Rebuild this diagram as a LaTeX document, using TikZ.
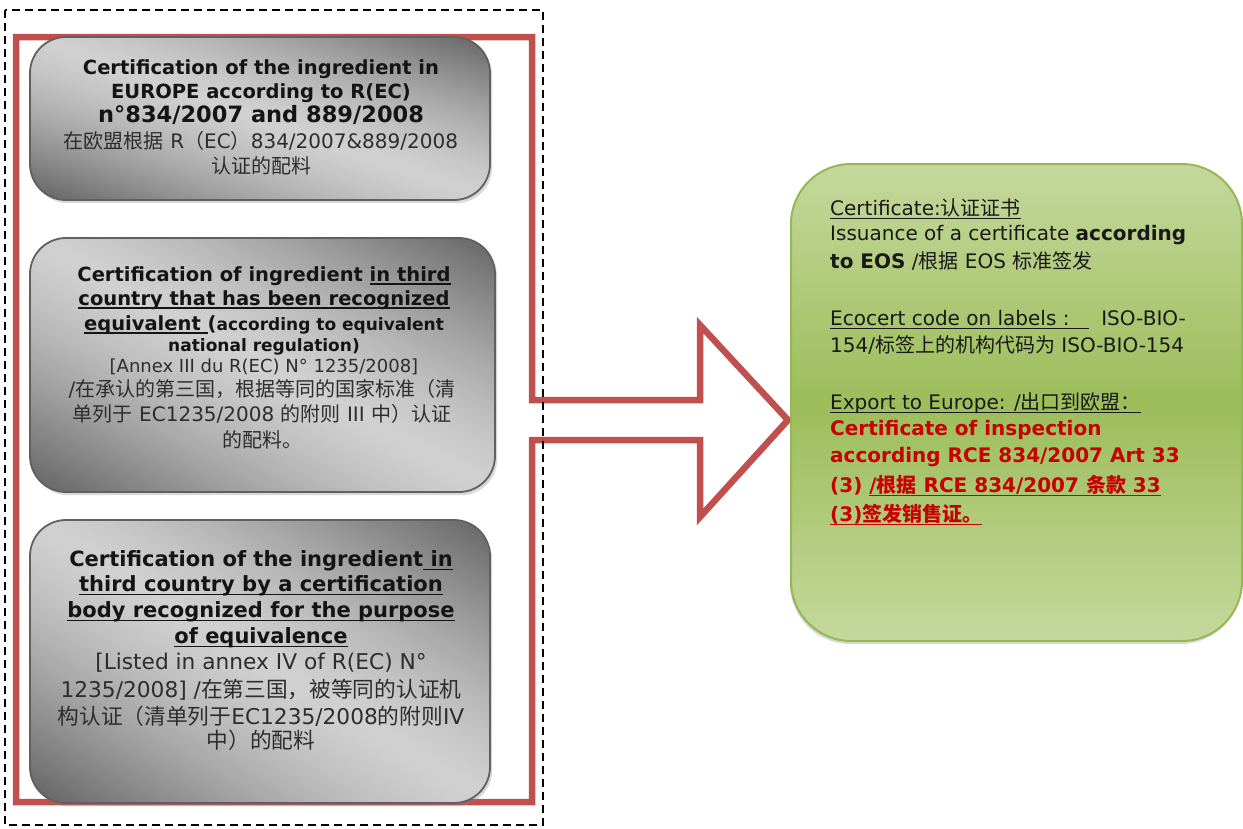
\documentclass[tikz,border=0pt]{standalone}
\usepackage{fontspec}
\setmainfont{DejaVu Sans}
\newfontfamily\cjk{Noto Sans CJK SC}
\usetikzlibrary{shadows}
\definecolor{redline}{RGB}{192,80,77}
\definecolor{greenB}{RGB}{150,184,84}
\definecolor{greenL}{RGB}{197,216,157}
\definecolor{greenM}{RGB}{156,189,90}
\definecolor{grayD}{RGB}{98,98,98}
\definecolor{grayL}{RGB}{208,208,208}
\definecolor{grayE}{RGB}{96,96,96}
\definecolor{txtred}{RGB}{200,0,0}
\definecolor{txtgray}{RGB}{45,45,45}
\newcommand\zh[1]{{\cjk #1}}
\newcommand\ulx[1]{\setbox0\hbox{#1}\rlap{\rule[-0.2em]{\wd0}{0.075em}}\box0}
% diagonal grey gradient inside a rounded box: dark at top-right and bottom-left
\newcommand\grayfill[4]{%
  \begin{scope}
    \clip[rounded corners=36pt] (#1,#2) rectangle (#3,#4);
    \foreach \i in {0,...,119}{
      \pgfmathsetmacro\sa{-1+\i/60}
      \pgfmathsetmacro\sb{-1+(\i+1.6)/60}
      \pgfmathsetmacro\uu{abs((\sa+\sb)/2)}
      \pgfmathsetmacro\ff{100*(1-\uu^1.4)}
      \fill[grayL!\ff!grayD]
        (#1,{#2+\sa*(#4-#2)}) -- (#3,{#4+\sa*(#4-#2)})
        -- (#3,{#4+\sb*(#4-#2)}) -- (#1,{#2+\sb*(#4-#2)}) -- cycle;
    }
  \end{scope}
  \draw[grayE, line width=1.8pt, rounded corners=36pt] (#1,#2) rectangle (#3,#4);}
\tikzset{
  graybox/.style={rectangle, rounded corners=36pt, fill=grayL,
    drop shadow={opacity=0.3, shadow xshift=2pt, shadow yshift=-3pt},
    anchor=north west, inner sep=0pt},
  greenbox/.style={rectangle, rounded corners=60pt, draw=greenB, line width=2pt,
    top color=greenL, bottom color=greenL, middle color=greenM,
    drop shadow={opacity=0.3, shadow xshift=-1pt, shadow yshift=-3pt},
    anchor=north west, inner sep=0pt},
  hb/.style={anchor=base, inner sep=0pt, text=black!92, font=\fontsize{19.5}{24}\selectfont\bfseries},
  hbb/.style={anchor=base, inner sep=0pt, text=black!92, font=\fontsize{21}{26}\selectfont\bfseries},
  rl/.style={anchor=base, inner sep=0pt, text=txtgray, font=\fontsize{20}{24}\selectfont},
  rlb/.style={anchor=base, inner sep=0pt, text=txtgray, font=\fontsize{21.7}{26}\selectfont},
  gt/.style={anchor=base west, inner sep=0pt, text=black!90, font=\fontsize{20}{26}\selectfont},
  gr/.style={anchor=base west, inner sep=0pt, text=txtred, font=\fontsize{20}{26}\selectfont\bfseries},
}
\begin{document}
\begin{tikzpicture}[x=1pt,y=-1pt]
\useasboundingbox (0,0) rectangle (1243,828);
% red outline arrow
\draw[redline, line width=6.5pt, line join=miter]
  (16,37) -- (532,37) -- (532,400) -- (700,400) -- (700,325) -- (788,420)
  -- (700,517) -- (700,440) -- (532,440) -- (532,802) -- (16,802) -- cycle;
% gray boxes
\node[graybox, minimum width=460pt, minimum height=163pt] (b1) at (30,37) {};
\grayfill{30}{37}{490}{200}
\node[graybox, minimum width=465pt, minimum height=254pt] (b2) at (30,238) {};
\grayfill{30}{238}{495}{492}
\node[graybox, minimum width=460pt, minimum height=283pt] (b3) at (30,520) {};
\grayfill{30}{520}{490}{803}
% green box
\node[greenbox, minimum width=451pt, minimum height=477pt] (g) at (790,163) {};
% dashed frame
\draw[black, line width=2.5pt, dash pattern=on 8pt off 5pt] (5,10) rectangle (543,825);

% box 1 text
\node[hb] (t11) at (261,74) {Certification of the ingredient in};
\node[hb] (t12) at (261,98) {EUROPE according to R(EC)};
\node[hb, font=\fontsize{22.5}{26}\selectfont\bfseries] (t13) at (261,122) {n°834/2007 and 889/2008};
\node[rl] (t14) at (261,148) {\zh{在欧盟根据} R\zh{（}EC\zh{）}834/2007\&889/2008};
\node[rl] (t15) at (261,173) {\zh{认证的配料}};

% box 2 text
\node[hb] (t21) at (264,281) {Certification of ingredient \ulx{in third}};
\node[hb] (t22) at (264,305) {\ulx{country that has been recognized}};
\node[hb] (t23) at (264,330) {\ulx{equivalent\ }({\fontsize{17}{20}\selectfont according to equivalent}};
\node[hb, font=\fontsize{17}{20}\selectfont\bfseries] (t24) at (264,351) {national regulation)};
\node[rl, font=\fontsize{18}{22}\selectfont] (t25) at (264,372) {[Annex III du R(EC) N° 1235/2008]};
\node[rl] (t26) at (262,396) {/\zh{在承认的第三国，根据等同的国家标准（清}};
\node[rl] (t27) at (262,421) {\zh{单列于} EC1235/2008 \zh{的附则} III \zh{中）认证}};
\node[rl] (t28) at (262,447) {\zh{的配料。}};

% box 3 text
\node[hbb] (t31) at (261,566) {Certification of the ingredient\ulx{ in}};
\node[hbb] (t32) at (261,591) {\ulx{third country by a certification}};
\node[hbb] (t33) at (261,617) {\ulx{body recognized for the purpose}};
\node[hbb] (t34) at (261,643) {\ulx{of equivalence}};
\node[rlb] (t35) at (261,669) {[Listed in annex IV of R(EC) N°};
\node[rlb] (t36) at (261,697) {1235/2008] /\zh{在第三国，被等同的认证机}};
\node[rlb] (t37) at (261,724) {\zh{构认证（清单列于}EC1235/2008\zh{的附则}IV};
\node[rlb] (t38) at (261,748) {\zh{中）的配料}};

% green text
\node[gt] (g1) at (830,215) {\ulx{Certificate:\zh{认证证书}}};
\node[gt] (g2) at (830,240) {Issuance of a certificate \textbf{according}};
\node[gt] (g3) at (830,268) {\textbf{to EOS} /\zh{根据} EOS \zh{标准签发}};
\node[gt] (g4) at (830,325) {\ulx{Ecocert code on labels :\ \ \ }\ \ ISO-BIO-};
\node[gt] (g5) at (830,352) {154/\zh{标签上的机构代码为} ISO-BIO-154};
\node[gt] (g6) at (830,409) {\ulx{Export to Europe: /\zh{出口到欧盟：}}};
\node[gr] (g7) at (830,435) {Certificate of inspection};
\node[gr] (g8) at (830,462) {according RCE 834/2007 Art 33};
\node[gr] (g9) at (830,492) {(3) \ulx{/\zh{根据} RCE 834/2007 \zh{条款} 33}};
\node[gr] (g10) at (830,521) {\ulx{(3)\zh{签发销售证。}}};
\end{tikzpicture}
\end{document}
